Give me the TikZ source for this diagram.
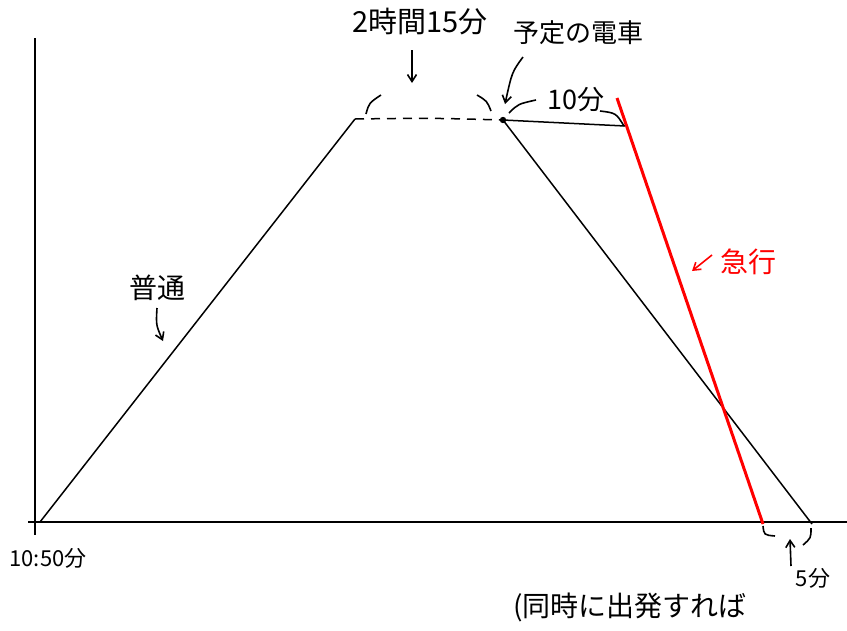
\documentclass[tikz,border=0pt]{standalone}
\usepackage{fontspec}
\newfontfamily\jp{Noto Sans CJK JP}
\usetikzlibrary{arrows.meta}
\begin{document}
\begin{tikzpicture}[x=1pt,y=-1pt,
  axis/.style={line width=2pt,black},
  track/.style={line width=1.5pt,black},
  express/.style={line width=3pt,red},
  tickarc/.style={line width=1.6pt,black},
  pointer/.style={line width=1.6pt,black,-{Straight Barb[length=7pt,width=9pt]}},
  lbl/.style={font=\jp\fontsize{28}{30}\selectfont,inner sep=0pt},
  redlbl/.style={lbl,text=red,font=\jp\fontsize{28}{30}\selectfont}]
\useasboundingbox (0,0) rectangle (847,630);
% coordinates
\coordinate (ytop) at (35,38);
\coordinate (ybot) at (35,535);
\coordinate (xl) at (28,522);
\coordinate (xr) at (847,522);
\coordinate (A) at (40,522);
\coordinate (B) at (355,119);
\coordinate (C) at (503,120);
\coordinate (D) at (812,524);
\coordinate (E) at (625,126);
\coordinate (R1) at (617,98);
\coordinate (R2) at (763,524);
% axes
\draw[axis] (ytop) -- (ybot);
\draw[axis] (xl) -- (xr);
% train lines
\draw[track] (A) -- (B);
\draw[track,dash pattern=on 9pt off 7pt] (B) .. controls (430,118) .. (C);
\draw[track] (C) -- (D);
\draw[track] (C) -- (E);
\draw[express] (R1) -- (R2);
\fill (C) circle (3.2);
% marks around dashed part
\draw[tickarc] (366,114) .. controls (369,103) .. (381,95);
\draw[tickarc] (477,95) .. controls (487,101) .. (491,111);
% marks for 10 min
\draw[tickarc] (509,113) .. controls (518,104) .. (536,100);
\draw[tickarc] (600,111) .. controls (616,113) .. (624,126);
% marks for 5 min
\draw[tickarc] (763,526) .. controls (764,535) .. (775,536);
\draw[tickarc] (811,528) .. controls (811,538) .. (803,545);
% labels
\node[lbl,font=\jp\fontsize{29}{31}\selectfont] (t215) at (420,22) {2時間15分};
\node[lbl,font=\jp\fontsize{26}{28}\selectfont] (plan) at (578,33) {予定の電車};
\node[lbl,font=\jp\fontsize{27}{29}\selectfont] (ten) at (576,100) {10分};
\node[redlbl] (kyu) at (748,262) {急行};
\node[lbl] (futsu) at (157,288) {普通};
\node[lbl,font=\jp\fontsize{22}{24}\selectfont] (start) at (48,558) {10:50分};
\node[lbl,font=\jp\fontsize{22}{24}\selectfont] (five) at (813,578) {5分};
\node[lbl] (same) at (630,607) {(同時に出発すれば};
% pointers
\coordinate (p1s) at (412,50);
\coordinate (p1e) at (412,83);
\draw[pointer] (p1s) -- (p1e);
\coordinate (p2s) at (523,57);
\coordinate (p2e) at (505,104);
\draw[pointer] (p2s) .. controls (512,72) .. (p2e);
\coordinate (p3s) at (157,308);
\coordinate (p3e) at (163,341);
\draw[pointer] (p3s) .. controls (156,325) .. (p3e);
\coordinate (p4s) at (712,255);
\coordinate (p4e) at (692,271);
\draw[pointer,red] (p4s) -- (p4e);
\coordinate (p5s) at (791,566);
\coordinate (p5e) at (790,539);
\draw[pointer] (p5s) -- (p5e);
\end{tikzpicture}
\end{document}
